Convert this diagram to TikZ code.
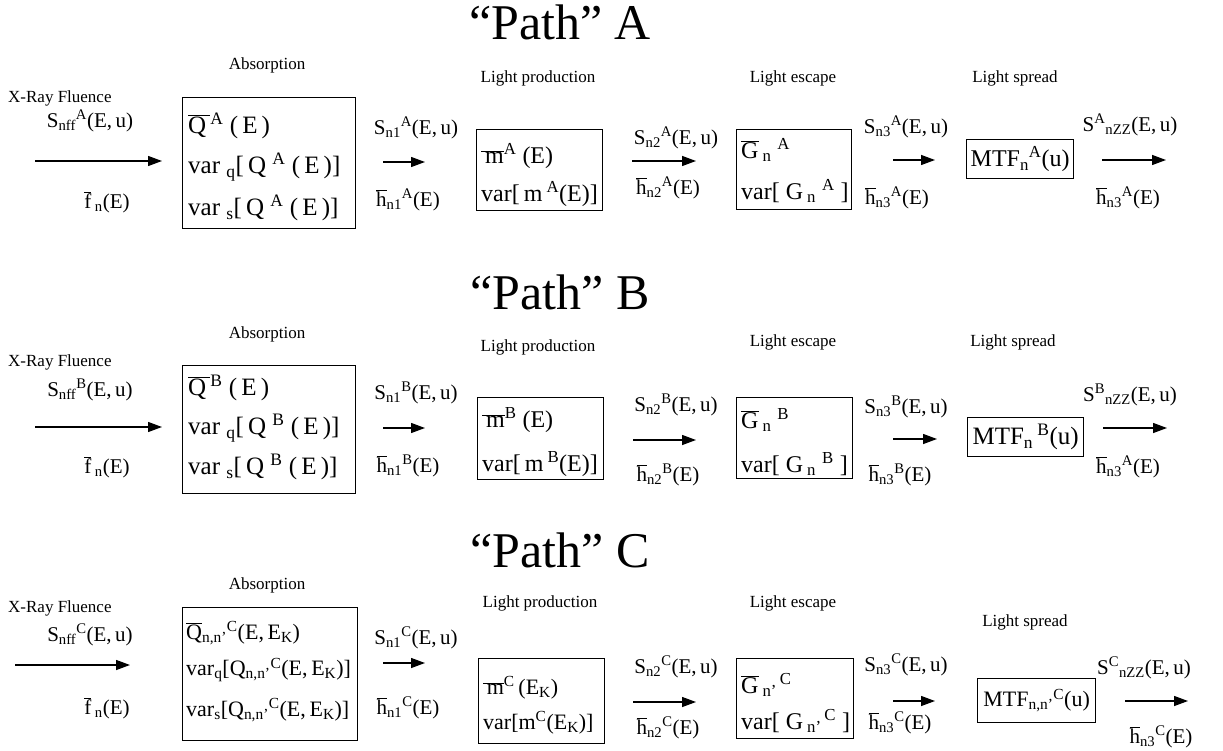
\documentclass[tikz,border=0pt]{standalone}
\usepackage{fontspec}
\setmainfont{Liberation Serif}
\usetikzlibrary{arrows.meta}
\newcommand\up[1]{\textsuperscript{#1}}
\newcommand\dn[1]{\textsubscript{#1}}
\newcommand\ol[1]{\ensuremath{\overline{\hbox{#1}}}}
\tikzset{
 ttl/.style={font=\fontsize{50}{54}\selectfont, inner sep=0},
 stage/.style={font=\fontsize{17}{20}\selectfont, inner sep=0},
 lbl/.style={font=\fontsize{21}{24}\selectfont, inner sep=0},
 btxt/.style={font=\fontsize{24}{26}\selectfont, inner sep=0, anchor=west},
 bigtxt/.style={btxt, font=\fontsize{25}{27}\selectfont},
 smalltxt/.style={btxt, font=\fontsize{22}{24}\selectfont},
 boxframe/.style={draw, line width=1.2pt, inner sep=0, anchor=north west},
 flow/.style={line width=1.3pt, -{Triangle[length=14pt,width=10pt]}},
}
\begin{document}
\begin{tikzpicture}[x=1pt,y=-1pt]
\useasboundingbox (0,0) rectangle (1223,751);
% ================= Path A =================
\node[ttl] (tA) at (560,22) {“Path” A};
\node[stage] (absA) at (267,65) {Absorption};
\node[stage, anchor=west] (xrA) at (8,98) {X-Ray Fluence};
\node[stage] (lpA) at (538,78) {Light production};
\node[stage] (leA) at (793,78) {Light escape};
\node[stage] (lsA) at (1015,78) {Light spread};
% arrow 0
\node[lbl] (s0A) at (90,121) {S\dn{nff}\up{A}(E,\,u)};
\coordinate (a0As) at (35,161); \coordinate (a0Ae) at (162,161);
\draw[flow] (a0As) -- (a0Ae);
\node[lbl] (f0A) at (107,202) {\ol{f}\,\dn{n}(E)};
% box Q
\node[boxframe, minimum width=173pt, minimum height=131pt] (QA) at (182,97) {};
\node[bigtxt] (QA1) at (188,126) {\ol{Q\,}\up{A}\ (\,E\,)};
\node[bigtxt] (QA2) at (188,167) {var \dn{q}[\,Q \up{A} (\,E\,)]};
\node[bigtxt] (QA3) at (188,208) {var \dn{s}[\,Q \up{A} (\,E\,)]};
% arrow 1
\node[lbl] (s1A) at (416,128) {S\dn{n1}\up{A}(E,\,u)};
\coordinate (a1As) at (383,162); \coordinate (a1Ae) at (425,162);
\draw[flow] (a1As) -- (a1Ae);
\node[lbl] (h1A) at (408,200) {\ol{h}\dn{n1}\up{A}(E)};
% box m
\node[boxframe, minimum width=126pt, minimum height=81pt] (mA) at (476,129) {};
\node[btxt] (mA1) at (481,156) {\ol{\,m}\up{A}\ (E)};
\node[btxt] (mA2) at (481,194) {var[\,m\,\up{A}(E)]};
% arrow 2
\node[lbl] (s2A) at (676,138) {S\dn{n2}\up{A}(E,\,u)};
\coordinate (a2As) at (632,161); \coordinate (a2Ae) at (696,161);
\draw[flow] (a2As) -- (a2Ae);
\node[lbl] (h2A) at (668,188) {\ol{h}\dn{n2}\up{A}(E)};
% box G
\node[boxframe, minimum width=115pt, minimum height=80pt] (GA) at (736,129) {};
\node[btxt] (GA1) at (741,150) {\ol{G}\,\dn{n}\ \up{A}};
\node[btxt] (GA2) at (741,191) {var[\ G\,\dn{n}\ \up{A}\ ]};
% arrow 3
\node[lbl] (s3A) at (906,127) {S\dn{n3}\up{A}(E,\,u)};
\coordinate (a3As) at (893,160); \coordinate (a3Ae) at (935,160);
\draw[flow] (a3As) -- (a3Ae);
\node[lbl] (h3A) at (897,198) {\ol{h}\dn{n3}\up{A}(E)};
% MTF
\node[boxframe, minimum width=107pt, minimum height=39pt] (MA) at (966,139) {};
\node[btxt, anchor=center] (MA1) at (MA.center) {MTF\dn{n}\up{A}(u)};
% arrow 4
\node[lbl] (s4A) at (1130,125) {S\up{A}\dn{nZZ}(E,\,u)};
\coordinate (a4As) at (1102,160); \coordinate (a4Ae) at (1166,160);
\draw[flow] (a4As) -- (a4Ae);
\node[lbl] (h4A) at (1128,198) {\ol{h}\dn{n3}\up{A}(E)};
% ================= Path B =================
\node[ttl] (tB) at (560,292) {“Path” B};
\node[stage] (absB) at (267,334) {Absorption};
\node[stage, anchor=west] (xrB) at (8,362) {X-Ray Fluence};
\node[stage] (lpB) at (538,347) {Light production};
\node[stage] (leB) at (793,342) {Light escape};
\node[stage] (lsB) at (1013,342) {Light spread};
\node[lbl] (s0B) at (90,390) {S\dn{nff}\up{B}(E,\,u)};
\coordinate (a0Bs) at (35,427); \coordinate (a0Be) at (162,427);
\draw[flow] (a0Bs) -- (a0Be);
\node[lbl] (f0B) at (107,467) {\ol{f}\,\dn{n}(E)};
\node[boxframe, minimum width=173pt, minimum height=128pt] (QB) at (182,365) {};
\node[bigtxt] (QB1) at (188,388) {\ol{Q\,}\up{B}\ (\,E\,)};
\node[bigtxt] (QB2) at (188,428) {var \dn{q}[\,Q \up{B} (\,E\,)]};
\node[bigtxt] (QB3) at (188,467) {var \dn{s}[\,Q \up{B} (\,E\,)]};
\node[lbl] (s1B) at (416,393) {S\dn{n1}\up{B}(E,\,u)};
\coordinate (a1Bs) at (383,428); \coordinate (a1Be) at (425,428);
\draw[flow] (a1Bs) -- (a1Be);
\node[lbl] (h1B) at (408,466) {\ol{h}\dn{n1}\up{B}(E)};
\node[boxframe, minimum width=126pt, minimum height=82pt] (mB) at (477,397) {};
\node[btxt] (mB1) at (482,420) {\ol{\,m}\up{B}\ (E)};
\node[btxt] (mB2) at (482,464) {var[\,m\,\up{B}(E)]};
\node[lbl] (s2B) at (676,405) {S\dn{n2}\up{B}(E,\,u)};
\coordinate (a2Bs) at (633,440); \coordinate (a2Be) at (696,440);
\draw[flow] (a2Bs) -- (a2Be);
\node[lbl] (h2B) at (668,475) {\ol{h}\dn{n2}\up{B}(E)};
\node[boxframe, minimum width=116pt, minimum height=81pt] (GB) at (736,397) {};
\node[btxt] (GB1) at (741,420) {\ol{G}\,\dn{n}\ \up{B}};
\node[btxt] (GB2) at (741,464) {var[\ G\,\dn{n}\ \up{B}\ ]};
\node[lbl] (s3B) at (906,407) {S\dn{n3}\up{B}(E,\,u)};
\coordinate (a3Bs) at (893,439); \coordinate (a3Be) at (937,439);
\draw[flow] (a3Bs) -- (a3Be);
\node[lbl] (h3B) at (900,475) {\ol{h}\dn{n3}\up{B}(E)};
\node[boxframe, minimum width=116pt, minimum height=39pt] (MB) at (967,417) {};
\node[bigtxt, anchor=center] (MB1) at (MB.center) {MTF\dn{n}\,\up{B}(u)};
\node[lbl] (s4B) at (1130,395) {S\up{B}\dn{nZZ}(E,\,u)};
\coordinate (a4Bs) at (1103,428); \coordinate (a4Be) at (1167,428);
\draw[flow] (a4Bs) -- (a4Be);
\node[lbl] (h4B) at (1128,467) {\ol{h}\dn{n3}\up{A}(E)};
% ================= Path C =================
\node[ttl] (tC) at (560,550) {“Path” C};
\node[stage] (absC) at (267,585) {Absorption};
\node[stage, anchor=west] (xrC) at (8,608) {X-Ray Fluence};
\node[stage] (lpC) at (540,603) {Light production};
\node[stage] (leC) at (793,603) {Light escape};
\node[stage] (lsC) at (1025,622) {Light spread};
\node[lbl] (s0C) at (90,635) {S\dn{nff}\up{C}(E,\,u)};
\coordinate (a0Cs) at (15,665); \coordinate (a0Ce) at (130,665);
\draw[flow] (a0Cs) -- (a0Ce);
\node[lbl] (f0C) at (107,708) {\ol{f}\,\dn{n}(E)};
\node[boxframe, minimum width=175pt, minimum height=133pt] (QC) at (182,607) {};
\node[smalltxt] (QC1) at (186,633) {\ol{Q}\dn{n,n'}\up{C}(E,\,E\dn{K})};
\node[smalltxt] (QC2) at (186,670) {var\dn{q}[Q\dn{n,n'}\up{C}(E,\,E\dn{K})]};
\node[smalltxt] (QC3) at (186,710) {var\dn{s}[Q\dn{n,n'}\up{C}(E,\,E\dn{K})]};
\node[lbl] (s1C) at (416,638) {S\dn{n1}\up{C}(E,\,u)};
\coordinate (a1Cs) at (383,663); \coordinate (a1Ce) at (425,663);
\draw[flow] (a1Cs) -- (a1Ce);
\node[lbl] (h1C) at (408,708) {\ol{h}\dn{n1}\up{C}(E)};
\node[boxframe, minimum width=126pt, minimum height=85pt] (mC) at (478,658) {};
\node[smalltxt] (mC1) at (483,688) {\ol{\,m}\up{C}\,(E\dn{K})};
\node[smalltxt] (mC2) at (483,723) {var[m\up{C}(E\dn{K})]};
\node[lbl] (s2C) at (676,667) {S\dn{n2}\up{C}(E,\,u)};
\coordinate (a2Cs) at (633,702); \coordinate (a2Ce) at (696,702);
\draw[flow] (a2Cs) -- (a2Ce);
\node[lbl] (h2C) at (668,728) {\ol{h}\dn{n2}\up{C}(E)};
\node[boxframe, minimum width=117pt, minimum height=80pt] (GC) at (736,658) {};
\node[btxt] (GC1) at (741,685) {\ol{G}\,\dn{n'}\up{\,C}};
\node[btxt] (GC2) at (741,721) {var[\ G\,\dn{n'}\up{\,C}\ ]};
\node[lbl] (s3C) at (906,665) {S\dn{n3}\up{C}(E,\,u)};
\coordinate (a3Cs) at (893,701); \coordinate (a3Ce) at (935,701);
\draw[flow] (a3Cs) -- (a3Ce);
\node[lbl] (h3C) at (900,723) {\ol{h}\dn{n3}\up{C}(E)};
\node[boxframe, minimum width=118pt, minimum height=44pt] (MC) at (977,678) {};
\node[smalltxt, anchor=center] (MC1) at (MC.center) {MTF\dn{n,n'}\up{C}(u)};
\node[lbl] (s4C) at (1144,668) {S\up{C}\dn{nZZ}(E,\,u)};
\coordinate (a4Cs) at (1125,701); \coordinate (a4Ce) at (1188,701);
\draw[flow] (a4Cs) -- (a4Ce);
\node[lbl] (h4C) at (1161,737) {\ol{h}\dn{n3}\up{C}(E)};
\end{tikzpicture}
\end{document}
